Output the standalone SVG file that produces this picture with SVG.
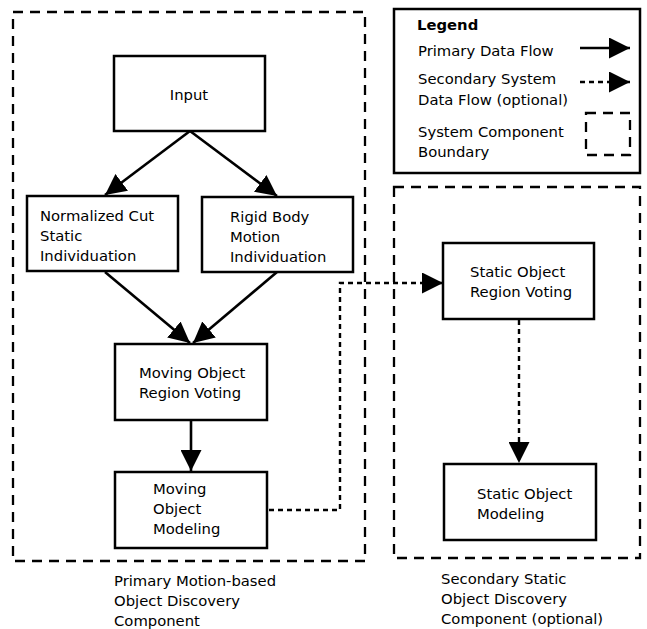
<svg xmlns="http://www.w3.org/2000/svg" width="647" height="629" viewBox="0 0 647 629">
<style>
text{font-family:"DejaVu Sans","Liberation Sans",sans-serif;font-size:14.8px;fill:#000}
.node{fill:#fff;stroke:#000;stroke-width:2.5}
.bound{fill:none;stroke:#000;stroke-width:2.3;stroke-dasharray:10,7}
.flow{fill:none;stroke:#000;stroke-width:2.6}
.sec{fill:none;stroke:#000;stroke-width:2.4;stroke-dasharray:5,4}
</style>
<defs>
<marker id="ah" markerUnits="userSpaceOnUse" markerWidth="21" markerHeight="21" refX="20" refY="10" orient="auto" viewBox="0 0 20 20">
<path d="M0,0 L20,10 L0,20 Z" fill="#000"/>
</marker>
</defs>
<rect width="647" height="629" fill="#fff"/>
<g id="primary-boundary">
<rect class="bound" x="13" y="12" width="352" height="549"/>
<text x="114" y="586">Primary Motion-based</text>
<text x="114" y="606">Object Discovery</text>
<text x="114" y="626">Component</text>
</g>
<g id="secondary-boundary">
<rect class="bound" x="394" y="187" width="246" height="371"/>
<text x="441" y="584">Secondary Static</text>
<text x="441" y="604">Object Discovery</text>
<text x="441" y="624">Component (optional)</text>
</g>
<g id="legend">
<rect x="394" y="9" width="246" height="164" fill="#fff" stroke="#000" stroke-width="2.5"/>
<text x="417" y="30" font-weight="bold">Legend</text>
<text x="418" y="56">Primary Data Flow</text>
<text x="418" y="84">Secondary System</text>
<text x="418" y="105">Data Flow (optional)</text>
<text x="418" y="137">System Component</text>
<text x="418" y="157">Boundary</text>
<line class="flow" x1="580" y1="48" x2="630" y2="48" marker-end="url(#ah)"/>
<line class="sec" x1="580" y1="82" x2="630" y2="82" marker-end="url(#ah)"/>
<rect class="bound" x="586" y="113" width="44" height="42"/>
</g>
<g id="connectors">
<line class="flow" x1="190" y1="131" x2="105" y2="195" marker-end="url(#ah)"/>
<line class="flow" x1="190" y1="131" x2="277" y2="196" marker-end="url(#ah)"/>
<line class="flow" x1="105" y1="272" x2="190" y2="343" marker-end="url(#ah)"/>
<line class="flow" x1="277" y1="272" x2="193" y2="343" marker-end="url(#ah)"/>
<line class="flow" x1="191" y1="420" x2="191" y2="471" marker-end="url(#ah)"/>
<polyline class="sec" points="269,510 340,510 340,283 443,283" marker-end="url(#ah)"/>
<line class="sec" x1="519" y1="320" x2="519" y2="463" marker-end="url(#ah)"/>
</g>
<g id="input">
<rect class="node" x="114" y="56" width="151" height="75"/>
<text x="189" y="100" text-anchor="middle">Input</text>
</g>
<g id="normalized-cut">
<rect class="node" x="27" y="196" width="151" height="75"/>
<text x="40" y="221">Normalized Cut</text>
<text x="40" y="241">Static</text>
<text x="40" y="261">Individuation</text>
</g>
<g id="rigid-body">
<rect class="node" x="202" y="197" width="151" height="75"/>
<text x="230" y="222">Rigid Body</text>
<text x="230" y="242">Motion</text>
<text x="230" y="262">Individuation</text>
</g>
<g id="moving-voting">
<rect class="node" x="115" y="344" width="152" height="76"/>
<text x="139" y="378">Moving Object</text>
<text x="139" y="398">Region Voting</text>
</g>
<g id="moving-modeling">
<rect class="node" x="115" y="472" width="152" height="76"/>
<text x="153" y="494">Moving</text>
<text x="153" y="514">Object</text>
<text x="153" y="534">Modeling</text>
</g>
<g id="static-voting">
<rect class="node" x="443" y="243" width="151" height="76"/>
<text x="470" y="277">Static Object</text>
<text x="470" y="297">Region Voting</text>
</g>
<g id="static-modeling">
<rect class="node" x="444" y="464" width="152" height="76"/>
<text x="477" y="499">Static Object</text>
<text x="477" y="519">Modeling</text>
</g>
</svg>
